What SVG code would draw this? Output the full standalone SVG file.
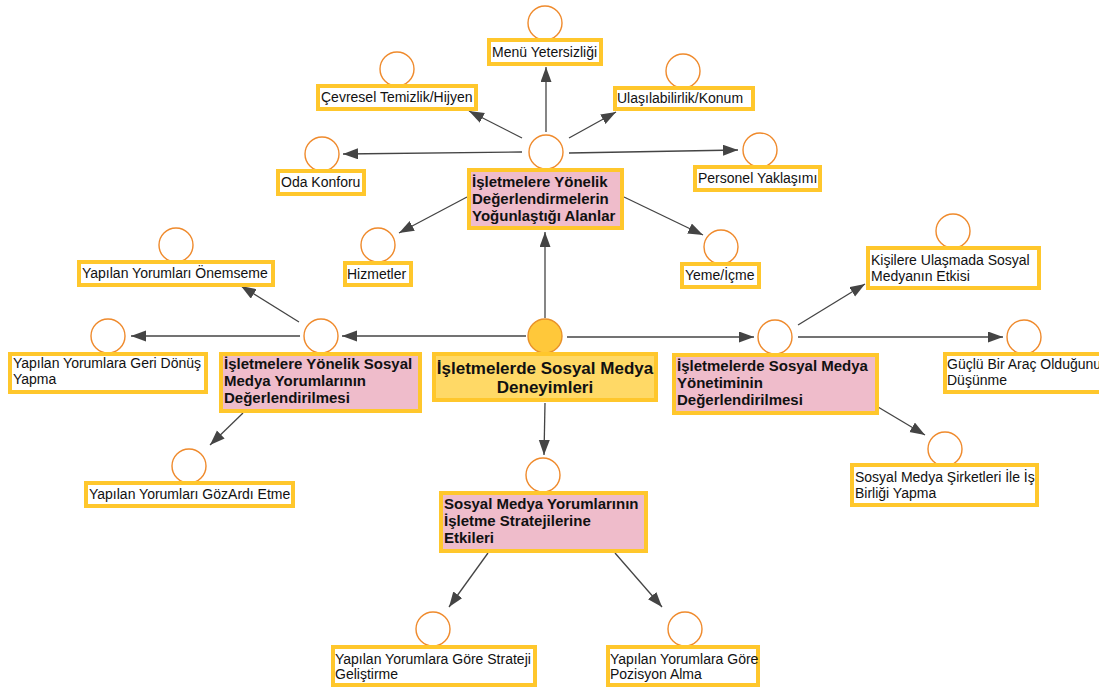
<svg xmlns="http://www.w3.org/2000/svg" width="1099" height="691" viewBox="0 0 1099 691">
  <defs>
    <marker id="arrow" markerUnits="userSpaceOnUse" markerWidth="16" markerHeight="12" refX="15" refY="5.5" orient="auto">
      <path d="M0,0 L15,5.5 L0,11 Z" fill="#444"/>
    </marker>
    <style>
      .box { fill: #ffffff; stroke: #ffc72c; stroke-width: 4; }
      .hub { fill: #efbccb; stroke: #ffc72c; stroke-width: 4; }
      .root { fill: #ffd966; stroke: #ffc72c; stroke-width: 4; }
      .dot { fill: #ffffff; stroke: #ef8a2c; stroke-width: 1.4; }
      .rootdot { fill: #ffc83a; stroke: #e8912a; stroke-width: 1.4; }
      .t { font-family: "Liberation Sans", Arial, sans-serif; font-size: 14px; fill: #111; }
      .tb { font-family: "Liberation Sans", Arial, sans-serif; font-size: 15px; font-weight: bold; fill: #111; }
      .tr { font-family: "Liberation Sans", Arial, sans-serif; font-size: 17px; font-weight: bold; fill: #111; text-anchor: middle; }
      .conn line { stroke: #444; stroke-width: 1.3; marker-end: url(#arrow); }
    </style>
  </defs>
  <rect width="1099" height="691" fill="#ffffff"/>

  <!-- connectors -->
  <g id="connectors" class="conn">
    <line x1="545" y1="318" x2="545" y2="232"/>
    <line x1="526" y1="336" x2="342" y2="336"/>
    <line x1="567" y1="337" x2="754" y2="337"/>
    <line x1="545" y1="403" x2="544" y2="455"/>
    <line x1="546" y1="132" x2="546" y2="67"/>
    <line x1="522" y1="138" x2="469" y2="111"/>
    <line x1="569" y1="138" x2="616" y2="112"/>
    <line x1="522" y1="152" x2="343" y2="154"/>
    <line x1="569" y1="153" x2="738" y2="150"/>
    <line x1="467" y1="197" x2="399" y2="233"/>
    <line x1="624" y1="197" x2="703" y2="235"/>
    <line x1="299" y1="322" x2="241" y2="286"/>
    <line x1="300" y1="336" x2="131" y2="336"/>
    <line x1="243" y1="413" x2="210" y2="445"/>
    <line x1="798" y1="325" x2="865" y2="284"/>
    <line x1="798" y1="337" x2="1003" y2="337"/>
    <line x1="878" y1="407" x2="925" y2="435"/>
    <line x1="488" y1="553" x2="449" y2="607"/>
    <line x1="615" y1="553" x2="662" y2="607"/>
  </g>

  <!-- root -->
  <g id="root">
    <circle class="rootdot" cx="545" cy="336" r="17"/>
    <rect class="root" x="434" y="354" width="222" height="46"/>
    <text class="tr" x="545" y="374">İşletmelerde Sosyal Medya</text>
    <text class="tr" x="545" y="393">Deneyimleri</text>
  </g>

  <!-- top hub and its leaves -->
  <g id="hub-top">
    <circle class="dot" cx="546" cy="152" r="17"/>
    <rect class="hub" x="469" y="170" width="153" height="58"/>
    <text class="tb" x="472" y="187">İşletmelere Yönelik</text>
    <text class="tb" x="472" y="204">Değerlendirmelerin</text>
    <text class="tb" x="472" y="221">Yoğunlaştığı Alanlar</text>
  </g>
  <g id="menu">
    <circle class="dot" cx="545" cy="23" r="17"/>
    <rect class="box" x="489" y="40" width="112" height="24"/>
    <text class="t" x="492" y="57">Menü Yetersizliği</text>
  </g>
  <g id="cevresel">
    <circle class="dot" cx="397" cy="69" r="17"/>
    <rect class="box" x="318" y="86" width="158" height="23"/>
    <text class="t" x="321" y="102">Çevresel Temizlik/Hijyen</text>
  </g>
  <g id="ulasilabilirlik">
    <circle class="dot" cx="683" cy="71" r="17"/>
    <rect class="box" x="615" y="88" width="138" height="21"/>
    <text class="t" x="617" y="103">Ulaşılabilirlik/Konum</text>
  </g>
  <g id="oda">
    <circle class="dot" cx="322" cy="154" r="17"/>
    <rect class="box" x="278" y="171" width="86" height="23"/>
    <text class="t" x="281" y="187">Oda Konforu</text>
  </g>
  <g id="personel">
    <circle class="dot" cx="760" cy="150" r="17"/>
    <rect class="box" x="695" y="167" width="125" height="23"/>
    <text class="t" x="698" y="183">Personel Yaklaşımı</text>
  </g>
  <g id="hizmetler">
    <circle class="dot" cx="378" cy="245" r="17"/>
    <rect class="box" x="345" y="263" width="66" height="22"/>
    <text class="t" x="347" y="279">Hizmetler</text>
  </g>
  <g id="yeme">
    <circle class="dot" cx="721" cy="247" r="17"/>
    <rect class="box" x="682" y="264" width="77" height="23"/>
    <text class="t" x="685" y="280">Yeme/İçme</text>
  </g>

  <!-- left hub and its leaves -->
  <g id="hub-left">
    <circle class="dot" cx="321" cy="336" r="17"/>
    <rect class="hub" x="221" y="354" width="199" height="57"/>
    <text class="tb" x="224" y="369">İşletmelere Yönelik Sosyal</text>
    <text class="tb" x="224" y="386">Medya Yorumlarının</text>
    <text class="tb" x="224" y="403">Değerlendirilmesi</text>
  </g>
  <g id="onemseme">
    <circle class="dot" cx="176" cy="245" r="17"/>
    <rect class="box" x="79" y="262" width="194" height="23"/>
    <text class="t" x="82" y="278">Yapılan Yorumları Önemseme</text>
  </g>
  <g id="geri-donus">
    <circle class="dot" cx="108" cy="336" r="17"/>
    <rect class="box" x="10" y="354" width="196" height="38"/>
    <text class="t" x="13" y="368">Yapılan Yorumlara Geri Dönüş</text>
    <text class="t" x="13" y="384">Yapma</text>
  </g>
  <g id="gozardi">
    <circle class="dot" cx="189" cy="466" r="17"/>
    <rect class="box" x="86" y="483" width="207" height="23"/>
    <text class="t" x="89" y="499">Yapılan Yorumları GözArdı Etme</text>
  </g>

  <!-- right hub and its leaves -->
  <g id="hub-right">
    <circle class="dot" cx="775" cy="337" r="17"/>
    <rect class="hub" x="674" y="355" width="203" height="58"/>
    <text class="tb" x="677" y="371">İşletmelerde Sosyal Medya</text>
    <text class="tb" x="677" y="388">Yönetiminin</text>
    <text class="tb" x="677" y="405">Değerlendirilmesi</text>
  </g>
  <g id="kisilere">
    <circle class="dot" cx="953" cy="231" r="17"/>
    <rect class="box" x="868" y="248" width="171" height="40"/>
    <text class="t" x="871" y="265">Kişilere Ulaşmada Sosyal</text>
    <text class="t" x="871" y="281">Medyanın Etkisi</text>
  </g>
  <g id="guclu">
    <circle class="dot" cx="1024" cy="337" r="17"/>
    <rect class="box" x="945" y="354" width="160" height="38"/>
    <text class="t" x="947" y="369">Güçlü Bir Araç Olduğunu</text>
    <text class="t" x="947" y="385">Düşünme</text>
  </g>
  <g id="sirketler">
    <circle class="dot" cx="945" cy="449" r="17"/>
    <rect class="box" x="852" y="465" width="185" height="40"/>
    <text class="t" x="855" y="482">Sosyal Medya Şirketleri İle İş</text>
    <text class="t" x="855" y="498">Birliği Yapma</text>
  </g>

  <!-- bottom hub and its leaves -->
  <g id="hub-bottom">
    <circle class="dot" cx="543" cy="475" r="17"/>
    <rect class="hub" x="441" y="493" width="205" height="58"/>
    <text class="tb" x="444" y="509">Sosyal Medya Yorumlarının</text>
    <text class="tb" x="444" y="526">İşletme Stratejilerine</text>
    <text class="tb" x="444" y="543">Etkileri</text>
  </g>
  <g id="strateji">
    <circle class="dot" cx="433" cy="629" r="17"/>
    <rect class="box" x="333" y="647" width="202" height="38"/>
    <text class="t" x="335" y="664">Yapılan Yorumlara Göre Strateji</text>
    <text class="t" x="335" y="679">Geliştirme</text>
  </g>
  <g id="pozisyon">
    <circle class="dot" cx="685" cy="629" r="17"/>
    <rect class="box" x="608" y="647" width="150" height="38"/>
    <text class="t" x="610" y="664">Yapılan Yorumlara Göre</text>
    <text class="t" x="610" y="679">Pozisyon Alma</text>
  </g>
</svg>
